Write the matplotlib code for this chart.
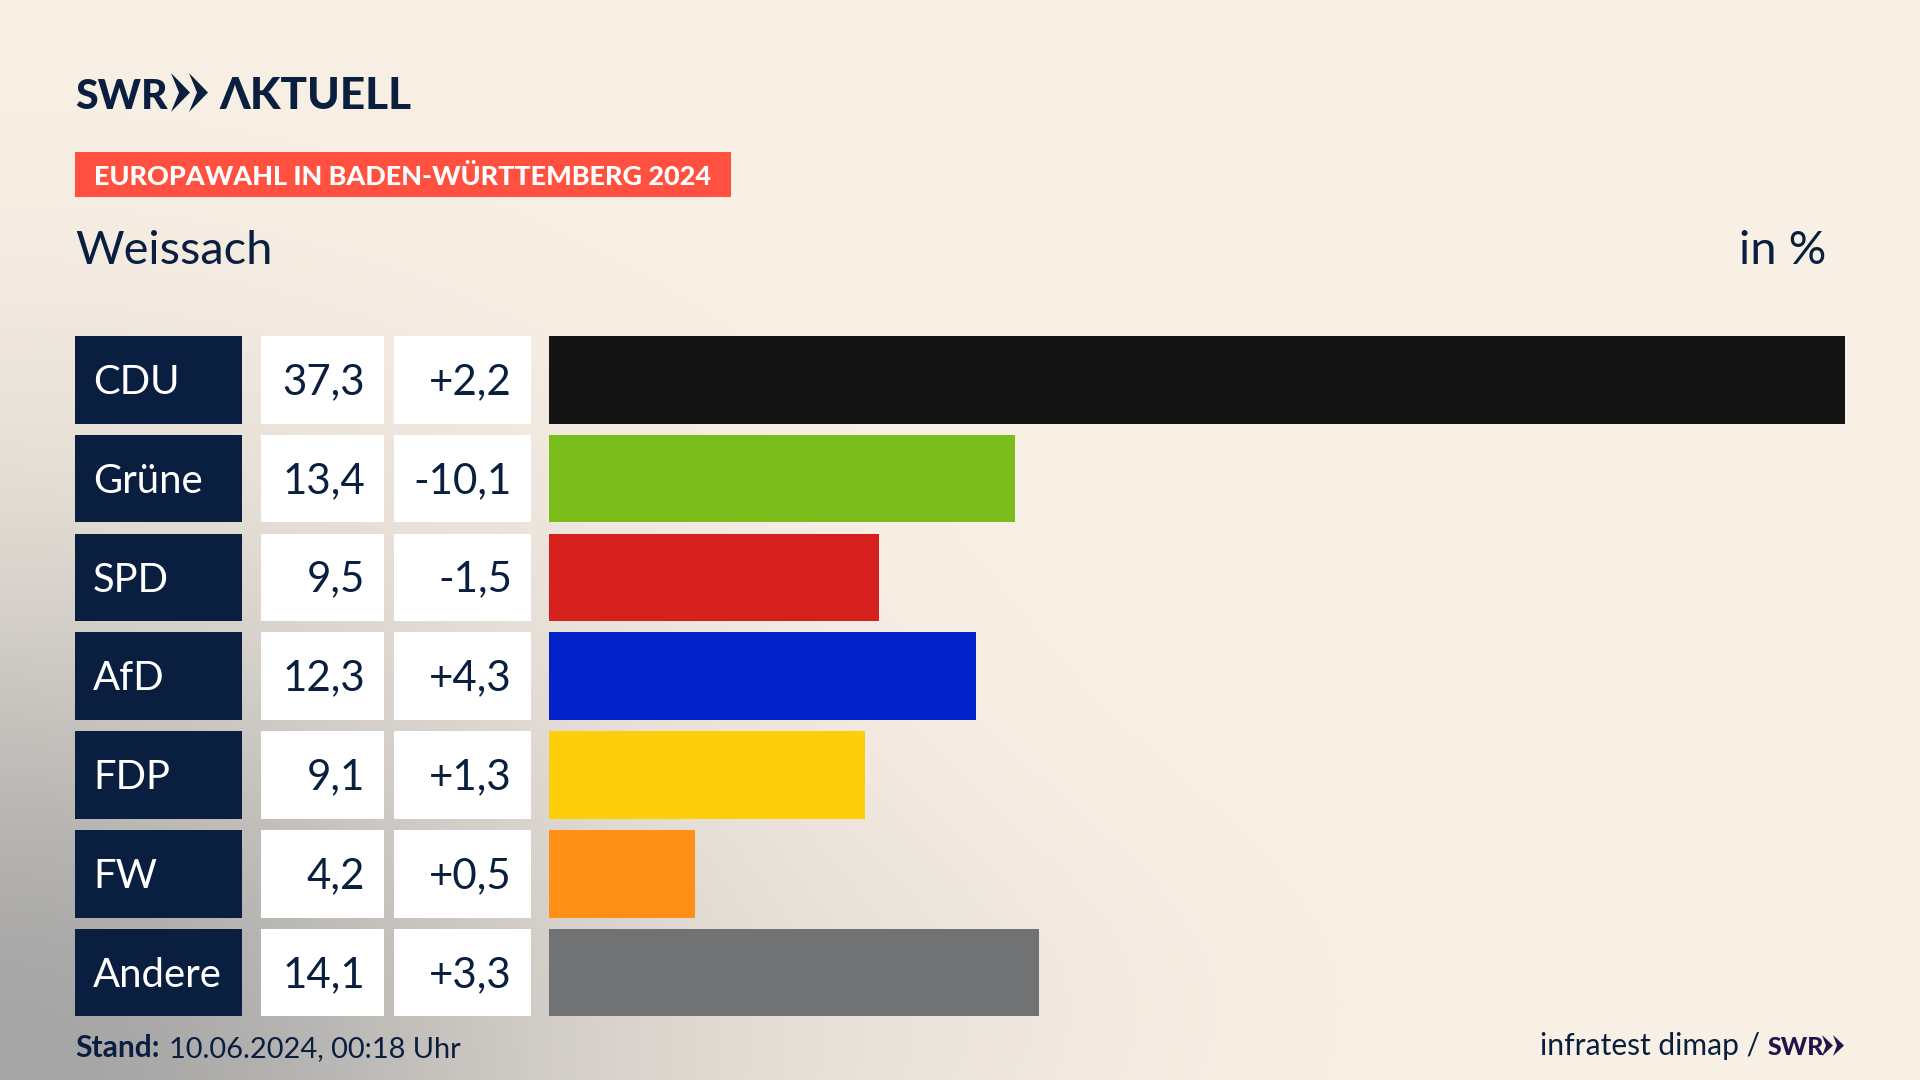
import numpy as np
import matplotlib
matplotlib.use("Agg")
import matplotlib.pyplot as plt

# data
parties = ["CDU", "Grüne", "SPD", "AfD", "FDP", "FW", "Andere"]
results = [37.3, 13.4, 9.5, 12.3, 9.1, 4.2, 14.1]
changes = [2.2, -10.1, -1.5, 4.3, 1.3, 0.5, 3.3]
bar_colors = ["#141414", "#7ABD1A", "#D6201E", "#0221C8", "#FFCE0A", "#FF8F17", "#717274"]

NAVY = "#0A1F3F"
RED = "#FF5040"
PURPLE = "#24134A"
W, H = 1920, 1080

plt.rcParams["font.family"] = ["Lato", "DejaVu Sans"]


def pt(px):
    # pixel em size to points at dpi 100
    return px * 72 / 100


def chevron(axes, x0, top, bottom, width, notch, color):
    mid = (top + bottom) / 2
    axes.fill([x0, x0 + width, x0, x0 + notch], [top, mid, bottom, mid], color=color, lw=0, zorder=2)


fig = plt.figure(figsize=(W / 100, H / 100), dpi=100)

# whole figure axes in pixels, for the background and the table cells
bg = fig.add_axes([0, 0, 1, 1])
bg.set_xlim(0, W)
bg.set_ylim(H, 0)
bg.axis("off")

# soft grey corner on the beige background
xx, yy = np.meshgrid(np.arange(0, W, 4), np.arange(0, H, 4))
corner = np.exp(-((xx / 620) ** 2 + ((yy - H) / 520) ** 2))
blob = 0.06 * np.exp(-(((xx - 950) / 380) ** 2 + ((yy - 1000) / 200) ** 2))
t = np.clip(corner + blob, 0, 1)[..., None]
beige = np.array([250, 241, 230]) / 255
grey = np.array([165, 165, 165]) / 255
bg.imshow(beige * (1 - t) + grey * t, extent=(0, W, H, 0), aspect="auto", zorder=0)

# logo
bg.text(75, 109, "SWR", fontsize=pt(41), fontweight=900, color=NAVY, va="baseline")
chevron(bg, 171, 73, 112, 19, 8, NAVY)
chevron(bg, 189, 73, 112, 19, 8, NAVY)
bg.text(219, 109, "ΛKTUELL", fontsize=pt(44), fontweight=900, color=NAVY, va="baseline")

# red heading
bg.fill([75, 731, 731, 75], [152, 152, 197, 197], color=RED, lw=0, zorder=2)
bg.text(94, 185, "EUROPAWAHL IN BADEN-WÜRTTEMBERG 2024", fontsize=pt(27), fontweight=900,
        color="white", va="baseline", zorder=3)

bg.text(75, 264, "Weissach", fontsize=pt(47), color=NAVY, va="baseline")
bg.text(1826, 264, "in %", fontsize=pt(47), color=NAVY, va="baseline", ha="right")

# table rows
row_top = 336
row_step = 98.8
row_h = 87.5
for i, party in enumerate(parties):
    top = row_top + i * row_step
    base = top + 58
    bg.barh(top + row_h / 2, 167, row_h, left=75, color=NAVY, zorder=2)
    bg.barh(top + row_h / 2, 123, row_h, left=261, color="white", zorder=2)
    bg.barh(top + row_h / 2, 137, row_h, left=394, color="white", zorder=2)
    bg.text(93, base, party, fontsize=pt(40), color="white", va="baseline", zorder=3)
    bg.text(365, base, f"{results[i]:.1f}".replace(".", ","), fontsize=pt(42),
            color=NAVY, va="baseline", ha="right", zorder=3)
    bg.text(512, base, f"{changes[i]:+.1f}".replace(".", ","), fontsize=pt(42),
            color=NAVY, va="baseline", ha="right", zorder=3)

# result bars on their own value axis
top_px = row_top + row_h / 2 - row_step / 2
ax = fig.add_axes([549 / W, 1 - (top_px + 7 * row_step) / H, (1845 - 549) / W, 7 * row_step / H])
ax.patch.set_alpha(0)
ax.barh(range(len(parties)), results, height=row_h / row_step, color=bar_colors)
ax.set_xlim(0, max(results))
ax.set_ylim(6.5, -0.5)
ax.axis("off")

# footer
bg.text(75, 1057, "Stand:", fontsize=pt(30), fontweight="bold", color=NAVY, va="baseline")
bg.text(169, 1057, "10.06.2024, 00:18 Uhr", fontsize=pt(29), color=NAVY, va="baseline")
bg.text(1760, 1055, "infratest dimap /", fontsize=pt(30), color=NAVY, va="baseline", ha="right")
bg.text(1768, 1055, "SWR", fontsize=pt(25), fontweight=900, color=PURPLE, va="baseline")
chevron(bg, 1822, 1035, 1056, 11, 4, PURPLE)
chevron(bg, 1833, 1035, 1056, 11, 4, PURPLE)

fig.savefig("out.png", dpi=100)
